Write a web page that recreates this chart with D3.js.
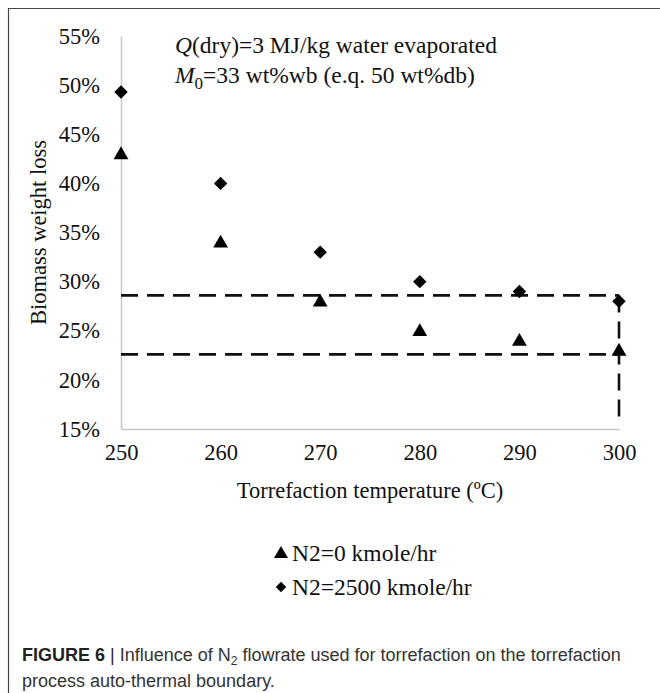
<!DOCTYPE html>
<html>
<head>
<meta charset="utf-8">
<script src="https://cdn.jsdelivr.net/npm/d3@7"></script>
<style>
body { margin: 0; background: #fff; }
svg { display: block; }
</style>
</head>
<body>
<div id="vis"></div>
<script>
const width = 660;
const height = 693;
const margin = { top: 36, right: 41, bottom: 264, left: 121 };

const temps = [250, 260, 270, 280, 290, 300];
const lossN2zero = [43, 34, 28, 25, 24, 23];
const lossN2high = [49.3, 40, 33, 30, 29, 28];
const yTicks = [15, 20, 25, 30, 35, 40, 45, 50, 55];
const upperBound = 28.6;
const lowerBound = 22.6;
const boundBottom = 16.1;

const serif = "'Liberation Serif', 'Times New Roman', serif";

const svg = d3.select("#vis").append("svg")
    .attr("width", width)
    .attr("height", height);

// figure frame (top + left edges)
svg.append("path")
    .attr("d", `M8.5,${height} V8.5 H${width}`)
    .attr("fill", "none")
    .attr("stroke", "#444")
    .attr("stroke-width", 1.2);

const x = d3.scaleLinear().domain([250, 300]).range([margin.left, width - margin.right]);
const y = d3.scaleLinear().domain([15, 55]).range([height - margin.bottom, margin.top]);

// axes
const xAxis = svg.append("g")
    .attr("transform", `translate(0,${y(15)})`)
    .call(d3.axisBottom(x).tickValues(temps).tickSize(0).tickPadding(13));
const yAxis = svg.append("g")
    .attr("transform", `translate(${x(250)},0)`)
    .call(d3.axisLeft(y).tickValues(yTicks).tickSize(0).tickPadding(21).tickFormat(d => d + "%"));

[xAxis, yAxis].forEach(g => {
    g.select(".domain").attr("stroke", "#c8c8c8").attr("stroke-width", 1.5);
    g.selectAll("text")
        .style("font-family", serif)
        .style("font-size", "22.5px")
        .attr("fill", "#111");
});
xAxis.selectAll("text").attr("dy", "0.82em");

// axis titles
svg.append("text")
    .attr("x", (x(250) + x(300)) / 2)
    .attr("y", 498)
    .attr("text-anchor", "middle")
    .style("font-family", serif)
    .style("font-size", "22.5px")
    .attr("fill", "#111")
    .text("Torrefaction temperature (ºC)");

svg.append("text")
    .attr("transform", `translate(46,${(y(15) + y(55)) / 2}) rotate(-90)`)
    .attr("text-anchor", "middle")
    .style("font-family", serif)
    .style("font-size", "22.5px")
    .attr("fill", "#111")
    .text("Biomass weight loss");

// annotation
const note = svg.append("g")
    .style("font-family", serif)
    .style("font-size", "23.5px")
    .attr("fill", "#111");
const n1 = note.append("text").attr("x", 175).attr("y", 53);
n1.append("tspan").style("font-style", "italic").text("Q");
n1.append("tspan").text("(dry)=3 MJ/kg water evaporated");
const n2 = note.append("text").attr("x", 175).attr("y", 83);
n2.append("tspan").style("font-style", "italic").text("M");
n2.append("tspan").attr("dy", 6).style("font-size", "17px").text("0");
n2.append("tspan").attr("dy", -6).text("=33 wt%wb (e.q. 50 wt%db)");

// auto-thermal boundary dashed lines
const dash = "17,9";
[upperBound, lowerBound].forEach(v => {
    svg.append("line")
        .attr("x1", x(250)).attr("x2", x(300))
        .attr("y1", y(v)).attr("y2", y(v))
        .attr("stroke", "#111")
        .attr("stroke-width", 2.6)
        .attr("stroke-dasharray", dash);
});
svg.append("line")
    .attr("x1", x(300)).attr("x2", x(300))
    .attr("y1", y(upperBound)).attr("y2", y(boundBottom))
    .attr("stroke", "#111")
    .attr("stroke-width", 2.6)
    .attr("stroke-dasharray", dash);

// markers
const tri = d3.symbol().type(d3.symbolTriangle).size(95);
const dia = d3.symbol().type(d3.symbolSquare).size(90);

svg.selectAll(".tri")
    .data(temps.map((t, i) => [t, lossN2zero[i]]))
    .enter().append("path")
    .attr("class", "tri")
    .attr("d", tri)
    .attr("transform", d => `translate(${x(d[0])},${y(d[1]) + 1})`)
    .attr("fill", "#000");

svg.selectAll(".dia")
    .data(temps.map((t, i) => [t, lossN2high[i]]))
    .enter().append("path")
    .attr("class", "dia")
    .attr("d", dia)
    .attr("transform", d => `translate(${x(d[0])},${y(d[1])}) rotate(45)`)
    .attr("fill", "#000");

// legend
const legendItems = [
    { label: "N2=0 kmole/hr", sym: d3.symbol().type(d3.symbolTriangle).size(85), rot: 0 },
    { label: "N2=2500 kmole/hr", sym: d3.symbol().type(d3.symbolSquare).size(55), rot: 45 }
];
const legend = svg.selectAll(".legend")
    .data(legendItems)
    .enter().append("g")
    .attr("class", "legend")
    .attr("transform", (d, i) => `translate(281,${553 + i * 34})`);
legend.append("path")
    .attr("d", d => d.sym())
    .attr("transform", d => d.rot ? "rotate(45)" : "translate(0,1)")
    .attr("fill", "#000");
legend.append("text")
    .attr("x", 11)
    .attr("y", 8)
    .style("font-family", serif)
    .style("font-size", "23.5px")
    .attr("fill", "#111")
    .text(d => d.label);

// caption
const cap = svg.append("g")
    .style("font-family", "'Liberation Sans', Arial, sans-serif")
    .style("font-size", "18px")
    .attr("fill", "#333");
const c1 = cap.append("text").attr("x", 22).attr("y", 661);
c1.append("tspan").style("font-weight", "bold").attr("fill", "#222").text("FIGURE 6");
c1.append("tspan").attr("fill", "#222").text(" | ");
c1.append("tspan").text("Influence of N");
c1.append("tspan").attr("dy", 4).style("font-size", "12px").text("2");
c1.append("tspan").attr("dy", -4).text(" flowrate used for torrefaction on the torrefaction");
cap.append("text").attr("x", 22).attr("y", 687).text("process auto-thermal boundary.");
</script>
</body>
</html>
